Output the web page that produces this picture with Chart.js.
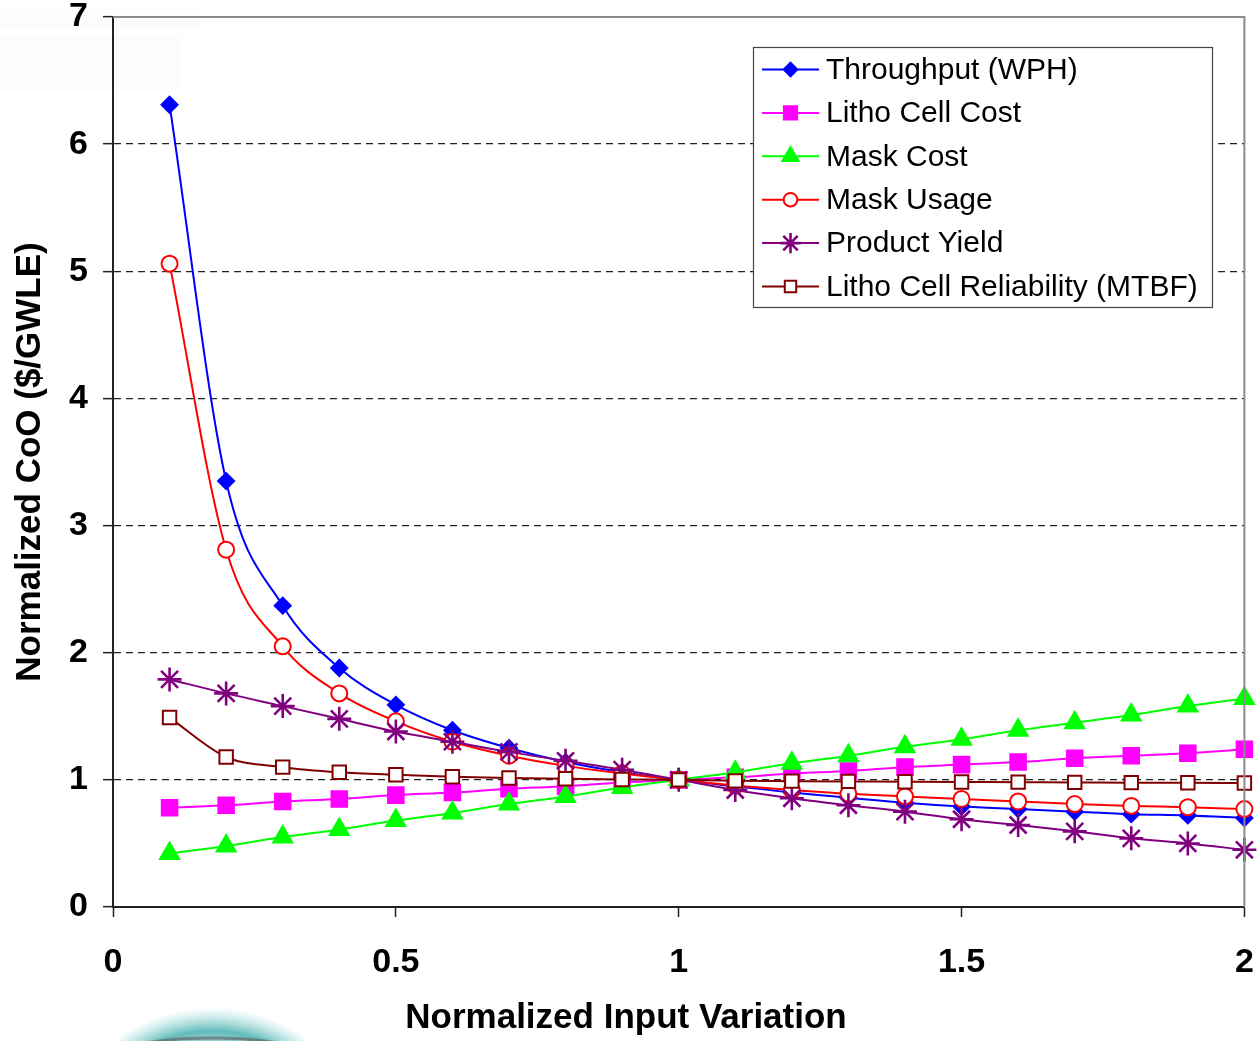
<!DOCTYPE html>
<html>
<head>
<meta charset="utf-8">
<script src="https://cdn.jsdelivr.net/npm/chart.js@4.4.1/dist/chart.umd.min.js"></script>
<style>
  html, body { margin: 0; padding: 0; background: #fff; }
  #wrap { width: 1259px; height: 1041px; position: relative; }
</style>
</head>
<body>
<div id="wrap"><canvas id="coo"></canvas></div>
<script>
// values
const xValues = [0.1, 0.2, 0.3, 0.4, 0.5, 0.6, 0.7, 0.8, 0.9, 1.0, 1.1, 1.2, 1.3, 1.4, 1.5, 1.6, 1.7, 1.8, 1.9, 2.0];
const throughput = [6.31, 3.35, 2.37, 1.88, 1.59, 1.39, 1.25, 1.14, 1.06, 1.00, 0.95, 0.90, 0.86, 0.82, 0.79, 0.77, 0.75, 0.73, 0.72, 0.70];
const cellCost = [0.78, 0.80, 0.83, 0.85, 0.88, 0.90, 0.93, 0.95, 0.98, 1.00, 1.02, 1.05, 1.07, 1.10, 1.12, 1.14, 1.17, 1.19, 1.21, 1.24];
const maskCost = [0.42, 0.48, 0.55, 0.61, 0.68, 0.74, 0.81, 0.87, 0.94, 1.00, 1.06, 1.13, 1.19, 1.26, 1.32, 1.39, 1.45, 1.51, 1.58, 1.64];
const maskUsage = [5.06, 2.81, 2.05, 1.68, 1.46, 1.30, 1.19, 1.11, 1.05, 1.00, 0.955, 0.92, 0.89, 0.87, 0.85, 0.83, 0.81, 0.795, 0.785, 0.77];
const productYield = [1.79, 1.68, 1.58, 1.48, 1.38, 1.30, 1.22, 1.15, 1.08, 1.00, 0.92, 0.855, 0.80, 0.75, 0.69, 0.645, 0.595, 0.54, 0.50, 0.45];
const mtbf = [1.49, 1.18, 1.10, 1.06, 1.04, 1.025, 1.015, 1.008, 1.003, 1.00, 0.992, 0.99, 0.988, 0.985, 0.983, 0.982, 0.98, 0.978, 0.977, 0.975];

const seriesNames = ['Throughput (WPH)', 'Litho Cell Cost', 'Mask Cost', 'Mask Usage', 'Product Yield', 'Litho Cell Reliability (MTBF)'];
const xTicks = [0, 0.5, 1, 1.5, 2];
const yTicks = [0, 1, 2, 3, 4, 5, 6, 7];
const xTitle = 'Normalized Input Variation';

const FONT = '"Liberation Sans", Arial, sans-serif';

function pts(ys) {
  return xValues.map((x, i) => ({ x: x, y: ys[i] }));
}

function series(i, ys, color, style, radius, fill, bw) {
  return {
    label: seriesNames[i],
    data: pts(ys),
    borderColor: color,
    borderWidth: 2,
    pointStyle: style,
    pointRadius: radius,
    pointBorderWidth: bw || 2,
    pointBorderColor: color,
    pointBackgroundColor: fill,
    cubicInterpolationMode: 'monotone',
    clip: false,
    order: 6 - i
  };
}

const datasets = [
  series(0, throughput, '#0000ff', 'rectRot', 8, '#0000ff'),
  series(1, cellCost, '#ff00ff', 'rect', 11, '#ff00ff'),
  series(2, maskCost, '#00ff00', 'triangle', 11, '#00ff00'),
  series(3, maskUsage, '#ff0000', 'circle', 8, '#ffffff'),
  series(4, productYield, '#800080', 'star', 12, '#800080', 2.6),
  series(5, mtbf, '#800000', 'rect', 9.5, '#ffffff')
];

// faint background leftovers + frame + legend box
const extras = {
  id: 'extras',
  beforeDraw(chart) {
    const ctx = chart.ctx;
    ctx.save();
    ctx.fillStyle = '#ffffff';
    ctx.fillRect(0, 0, chart.width, chart.height);
    ctx.fillStyle = 'rgba(0,0,0,0.012)';
    ctx.fillRect(0, 8, 200, 22);
    ctx.fillRect(0, 35, 180, 55);
    ctx.translate(212, 1125);
    ctx.scale(1.2, 1);
    const g = ctx.createRadialGradient(0, 0, 70, 0, 0, 118);
    g.addColorStop(0, 'rgba(255,255,255,1)');
    g.addColorStop(0.5, 'rgba(60,170,170,0.8)');
    g.addColorStop(1, 'rgba(140,210,210,0)');
    ctx.fillStyle = g;
    ctx.beginPath();
    ctx.arc(0, 0, 118, 0, Math.PI * 2);
    ctx.fill();
    ctx.restore();
    ctx.save();
    ctx.strokeStyle = 'rgba(90,90,90,0.6)';
    ctx.lineWidth = 3;
    ctx.beginPath();
    ctx.ellipse(212, 1048, 75, 10, 0, Math.PI, Math.PI * 2);
    ctx.stroke();
    ctx.restore();
  },
  afterDatasetsDraw(chart) {
    const ctx = chart.ctx;
    const a = chart.chartArea;
    ctx.save();
    ctx.strokeStyle = '#8c8c8c';
    ctx.lineWidth = 2;
    ctx.beginPath();
    ctx.moveTo(a.left, a.top);
    ctx.lineTo(a.right, a.top);
    ctx.lineTo(a.right, a.bottom);
    ctx.stroke();

    // x axis title, centred on the page like the original
    ctx.fillStyle = '#000';
    ctx.font = 'bold 35px ' + FONT;
    ctx.textAlign = 'center';
    ctx.textBaseline = 'middle';
    ctx.fillText(xTitle, 626, 1018);

    // legend
    const bx = 753, by = 47, bw = 459, bh = 260;
    ctx.fillStyle = '#ffffff';
    ctx.fillRect(bx, by, bw, bh);
    ctx.strokeStyle = '#444';
    ctx.lineWidth = 1.2;
    ctx.strokeRect(bx + 0.5, by + 0.5, bw, bh);
    ctx.font = '30px ' + FONT;
    ctx.textBaseline = 'middle';
    ctx.textAlign = 'left';
    chart.data.datasets.forEach((ds, i) => {
      const y = 69.5 + i * 43.4;
      ctx.strokeStyle = ds.borderColor;
      ctx.lineWidth = 2;
      ctx.beginPath();
      ctx.moveTo(762, y);
      ctx.lineTo(819, y);
      ctx.stroke();
      ctx.fillStyle = ds.pointBackgroundColor;
      ctx.strokeStyle = ds.pointBorderColor;
      ctx.lineWidth = ds.pointBorderWidth;
      Chart.helpers.drawPoint(ctx, {
        pointStyle: ds.pointStyle,
        radius: ds.pointRadius * 0.85,
        rotation: 0,
        borderWidth: ds.pointBorderWidth
      }, 790.5, y);
      ctx.fillStyle = '#000';
      ctx.fillText(ds.label, 826, y + 1);
    });
    ctx.restore();
  }
};

new Chart(document.getElementById('coo'), {
  type: 'line',
  data: { datasets: datasets },
  options: {
    responsive: true,
    maintainAspectRatio: false,
    animation: false,
    layout: { padding: { left: 0, right: 14, top: 17, bottom: 0 } },
    plugins: {
      legend: { display: false },
      tooltip: { enabled: false }
    },
    scales: {
      x: {
        type: 'linear',
        min: 0,
        max: 2,
        afterBuildTicks: (s) => { s.ticks = xTicks.map(v => ({ value: v })); },
        afterFit: (s) => { s.height = 134; s.paddingLeft = 0; s.paddingRight = 0; },
        ticks: {
          color: '#000',
          padding: 25,
          font: { family: FONT, size: 34, weight: 'bold' },
          callback: (v) => String(v)
        },
        grid: { drawOnChartArea: false, drawTicks: true, tickLength: 10, tickColor: '#222', tickWidth: 1.5 },
        border: { color: '#222', width: 2 }
      },
      y: {
        type: 'linear',
        min: 0,
        max: 7,
        afterBuildTicks: (s) => { s.ticks = yTicks.map(v => ({ value: v })); },
        afterFit: (s) => { s.width = 113; s.paddingTop = 0; s.paddingBottom = 0; },
        ticks: {
          color: '#000',
          padding: 15,
          font: { family: FONT, size: 34, weight: 'bold' }
        },
        grid: {
          color: (c) => (c.tick && (c.tick.value === 0 || c.tick.value === 7)) ? 'rgba(0,0,0,0)' : '#222',
          lineWidth: 1.3,
          tickLength: 10,
          tickColor: '#222',
          tickWidth: 1.5,
          tickBorderDash: []
        },
        border: { color: '#222', width: 2, dash: [7, 5] },
        title: {
          display: true,
          text: 'Normalized CoO ($/GWLE)',
          color: '#000',
          font: { family: FONT, size: 35, weight: 'bold' },
          padding: { top: 9, bottom: 0 }
        }
      }
    }
  },
  plugins: [extras]
});
</script>
</body>
</html>
